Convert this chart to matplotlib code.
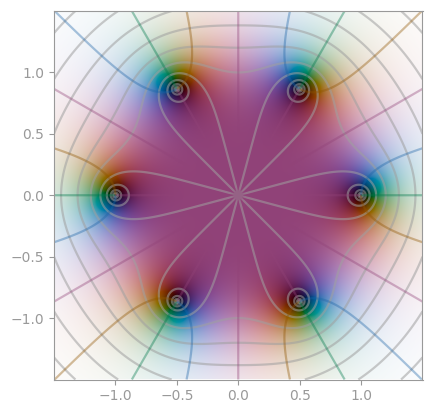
import numpy as np
import matplotlib
matplotlib.use("Agg")
import matplotlib.pyplot as plt

# the plotted function is f(z) = z^6 - 1
coeffs = [1, 0, 0, 0, 0, 0, -1]
xlim = [-1.5, 1.5]
ylim = [-1.5, 1.5]
ticks = [-1.0, -0.5, 0.0, 0.5, 1.0]
abs_levels = [2.0**k for k in range(-5, 8)]
arg_levels = [-np.pi / 2, 0.0, np.pi / 2, np.pi]

grey = "#999999"


def oklab_to_srgb(L, a, b):
    l = (L + 0.3963377774 * a + 0.2158037573 * b) ** 3
    m = (L - 0.1055613458 * a - 0.0638541728 * b) ** 3
    s = (L - 0.0894841775 * a - 1.2914855480 * b) ** 3
    r = 4.0767416621 * l - 3.3077115913 * m + 0.2309699292 * s
    g = -1.2684380046 * l + 2.6097574011 * m - 0.3413193965 * s
    bl = -0.0041960863 * l - 0.7034186147 * m + 1.7076147010 * s
    rgb = np.clip(np.stack([r, g, bl], axis=-1), 0, 1)
    return np.where(rgb <= 0.0031308, 12.92 * rgb, 1.055 * rgb ** (1 / 2.4) - 0.055)


def get_srgb(z):
    # lightness from |z|, hue from arg z, green on the positive reals
    r = np.abs(z) / (np.abs(z) + 1)
    angle = np.angle(z)
    offset = 0.8936868 * np.pi
    # chroma falls off faster on the bright side
    rd = (r - r**2) * 0.5 * (1 - 1.2 * np.clip(r - 0.5, 0, None))
    return oklab_to_srgb(r, rd * np.cos(angle + offset), rd * np.sin(angle + offset))


x = np.linspace(xlim[0], xlim[1], 400)
y = np.linspace(ylim[0], ylim[1], 400)
X, Y = np.meshgrid(x, y)
Z = X + 1j * Y
F = np.polyval(coeffs, Z)

fig, ax = plt.subplots(figsize=(4.32, 4.13), dpi=100)
ax.imshow(get_srgb(F), extent=[*xlim, *ylim], origin="lower", interpolation="bilinear")

# grey contours of |f|
ax.contour(X, Y, np.abs(F), levels=abs_levels, colors="#a0a0a0", alpha=0.55, linewidths=1.6)

# coloured contours of arg f
for lev in arg_levels:
    rot = F * np.exp(-1j * lev)
    im = np.ma.masked_where(rot.real <= 0, rot.imag)
    col = get_srgb(np.array([np.exp(1j * lev)]))[0]
    ax.contour(X, Y, im, levels=[0.0], colors=[col], alpha=0.38, linewidths=1.6)

ax.set_xlim(xlim)
ax.set_ylim(ylim)
ax.set_xticks(ticks)
ax.set_yticks(ticks)
ax.tick_params(colors=grey)
for sp in ax.spines.values():
    sp.set_color(grey)
fig.subplots_adjust(left=53.5 / 432, right=423 / 432, top=1 - 11 / 413, bottom=1 - 379.5 / 413)
fig.savefig("out.png", dpi=100)
